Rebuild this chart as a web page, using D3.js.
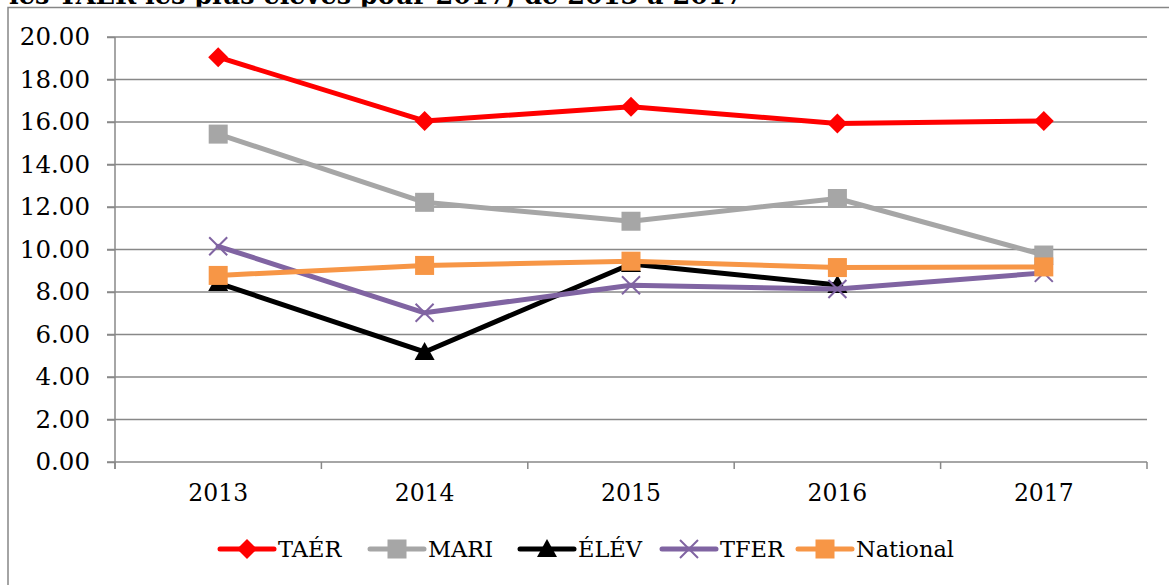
<!DOCTYPE html>
<html><head><meta charset="utf-8">
<script src="https://cdn.jsdelivr.net/npm/d3@7"></script>
<style>body{margin:0;background:#fff;overflow:hidden}svg{display:block}</style>
</head><body><svg id="c" width="1169" height="585"></svg>
<script>
const title = "les TAÉR les plus élevés pour 2017, de 2013 à 2017";
const years = ["2013","2014","2015","2016","2017"];
const yTicks = [0,2,4,6,8,10,12,14,16,18,20];
const seriesNames = ["TAÉR","MARI","ÉLÉV","TFER","National"];
const taer = [19.05, 16.05, 16.72, 15.93, 16.05];
const mari = [15.43, 12.22, 11.33, 12.40, 9.74];
const elev = [8.42, 5.18, 9.32, 8.33, null];
const tfer = [10.15, 7.02, 8.32, 8.14, 8.90];
const national = [8.78, 9.25, 9.45, 9.15, 9.18];
const colors = ["#ff0000","#a6a6a6","#000000","#8064a2","#f79646"];
const symbols = ["diamond","square","triangle","x","square"];

const svg = d3.select("#c");
const font = "DejaVu Serif";
const L = 115, R = 1147, T = 37, B = 462;
const x = d3.scaleBand().domain(years).range([L, R]);
const y = d3.scaleLinear().domain([0, 20]).range([B, T]);

// title (cut off at the top as in the reference)
svg.append("text").attr("x", 9).attr("y", 3.5).attr("font-family", font)
  .attr("font-weight", "bold").attr("font-size", 25.5).attr("fill", "#000").text(title);
// chart border
svg.append("rect").attr("x", 8).attr("y", 7.5).attr("width", 1200).attr("height", 620)
  .attr("fill", "#fff").attr("stroke", "#868686").attr("stroke-width", 1.5);

// gridlines
svg.append("g").selectAll("line").data(yTicks).join("line")
  .attr("x1", L - 8).attr("x2", R).attr("y1", d => y(d)).attr("y2", d => y(d))
  .attr("stroke", "#888").attr("stroke-width", 1.5);

// y axis
const yAxis = svg.append("g").attr("transform", `translate(${L},0)`)
  .call(d3.axisLeft(y).tickValues(yTicks).tickFormat(d3.format(".2f")).tickSize(8).tickPadding(17));
yAxis.select(".domain").remove();
yAxis.selectAll(".tick line").attr("stroke", "#888").attr("stroke-width", 1.5);
yAxis.selectAll("text").attr("font-family", font).attr("font-size", 24.5).attr("fill", "#000");
svg.append("line").attr("x1", L).attr("x2", L).attr("y1", T).attr("y2", B + 7)
  .attr("stroke", "#888").attr("stroke-width", 1.5);

// x axis
const xAxis = svg.append("g").attr("transform", `translate(0,${B})`)
  .call(d3.axisBottom(x).tickSize(0).tickPadding(22));
xAxis.select(".domain").remove();
xAxis.selectAll("text").attr("font-family", font).attr("font-size", 23.5).attr("fill", "#000");
svg.append("g").selectAll("line").data(d3.range(years.length + 1)).join("line")
  .attr("x1", i => L + i * x.step()).attr("x2", i => L + i * x.step())
  .attr("y1", B).attr("y2", B + 7).attr("stroke", "#888").attr("stroke-width", 1.5);

function marker(g, type, color, cx, cy) {
  if (type === "diamond") {
    g.append("path").attr("d", `M${cx},${cy-10}L${cx+10},${cy}L${cx},${cy+10}L${cx-10},${cy}Z`).attr("fill", color);
  } else if (type === "square") {
    g.append("rect").attr("x", cx-9.5).attr("y", cy-9.5).attr("width", 19).attr("height", 19).attr("fill", color);
  } else if (type === "triangle") {
    g.append("path").attr("d", `M${cx},${cy-10}L${cx+10},${cy+8}L${cx-10},${cy+8}Z`).attr("fill", color);
  } else if (type === "x") {
    g.append("path").attr("d", `M${cx-9},${cy-9}L${cx+9},${cy+9}M${cx+9},${cy-9}L${cx-9},${cy+9}`)
      .attr("stroke", color).attr("stroke-width", 2);
  }
}

const data = [taer, mari, elev, tfer, national];
const cx = d => x(d) + x.bandwidth() / 2;
const line = d3.line().defined(d => d[1] != null).x(d => cx(d[0])).y(d => y(d[1]));
data.forEach((vals, i) => {
  const g = svg.append("g");
  const pts = years.map((yr, j) => [yr, vals[j]]);
  g.append("path").datum(pts).attr("d", line).attr("fill", "none")
    .attr("stroke", colors[i]).attr("stroke-width", 5).attr("stroke-linejoin", "round").attr("stroke-linecap", "round");
  pts.filter(p => p[1] != null).forEach(p => marker(g, symbols[i], colors[i], cx(p[0]), y(p[1])));
});

// legend
const legX = [220, 370, 520, 662, 798];
const legY = 549;
seriesNames.forEach((n, i) => {
  const g = svg.append("g");
  g.append("line").attr("x1", legX[i]).attr("x2", legX[i] + 54).attr("y1", legY).attr("y2", legY)
    .attr("stroke", colors[i]).attr("stroke-width", 5).attr("stroke-linecap", "round");
  marker(g, symbols[i], colors[i], legX[i] + 27, legY);
  g.append("text").attr("x", legX[i] + 58).attr("y", legY).attr("dy", "0.36em")
    .attr("font-family", font).attr("font-size", 22.5).attr("fill", "#000").text(n);
});
</script></body></html>
